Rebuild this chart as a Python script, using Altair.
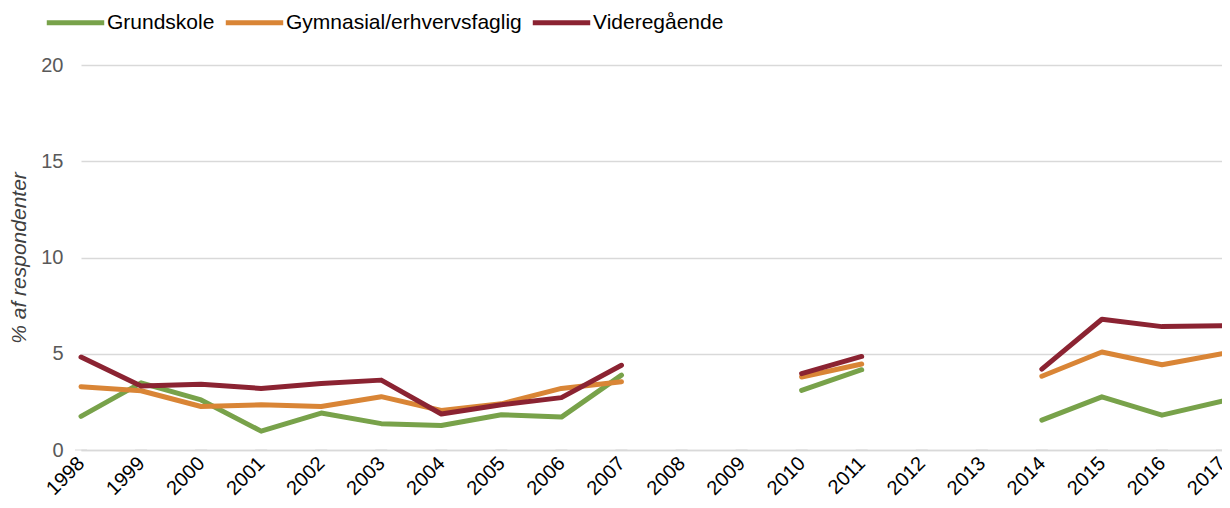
import altair as alt
import pandas as pd

years = list(range(1998, 2018))
series_names = ["Grundskole", "Gymnasial/erhvervsfaglig", "Videregående"]
grundskole = [1.75, 3.49, 2.60, 0.98, 1.92, 1.37, 1.27, 1.83, 1.71, 3.89, None, None,
              3.10, 4.17, None, None, 1.55, 2.76, 1.81, 2.53]
gymnasial = [3.29, 3.08, 2.26, 2.35, 2.26, 2.77, 2.05, 2.40, 3.20, 3.54, None, None,
             3.79, 4.47, None, None, 3.83, 5.09, 4.43, 5.00]
videregaaende = [4.83, 3.32, 3.42, 3.20, 3.46, 3.63, 1.87, 2.35, 2.72, 4.40, None, None,
                 3.97, 4.86, None, None, 4.20, 6.79, 6.41, 6.45]
y_ticks = [0, 5, 10, 15, 20]
colors = ["#78A24A", "#D98536", "#8B2332"]

rows = []
for name, vals in zip(series_names, [grundskole, gymnasial, videregaaende]):
    seg = 0
    prev_none = True
    for yr, v in zip(years, vals):
        if v is None:
            prev_none = True
            continue
        if prev_none:
            seg += 1
            prev_none = False
        rows.append({"year": yr, "series": name, "value": v, "segment": f"{name}-{seg}"})
df = pd.DataFrame(rows)
ticks_df = pd.DataFrame({"year": years, "zero": [0] * len(years)})

font = "Liberation Sans"

x_scale = alt.Scale(type="point", domain=years, padding=0)
y_scale = alt.Scale(domain=[0, 20])

lines = alt.Chart(df).mark_line(strokeWidth=5, strokeCap="round", strokeJoin="round").encode(
    x=alt.X("year:O", scale=x_scale, sort=years,
            axis=alt.Axis(title=None, labelAngle=-45, labelFontSize=20, labelColor="#000000",
                          labelFont=font, domainColor="#d9d9d9", domainWidth=1.5,
                          ticks=False, labelPadding=10, grid=False)),
    y=alt.Y("value:Q", scale=y_scale,
            axis=alt.Axis(values=y_ticks, title="% af respondenter", titleFontStyle="italic",
                          titleFontWeight="normal", titleFontSize=21, titleColor="#404040",
                          titleFont=font, titlePadding=11,
                          labelFontSize=20, labelColor="#595959", labelFont=font,
                          labelPadding=18, domain=False, ticks=False,
                          gridColor="#d9d9d9", gridWidth=1.5)),
    color=alt.Color("series:N", scale=alt.Scale(domain=series_names, range=colors),
                    legend=alt.Legend(orient="none", legendX=-37, legendY=-74,
                                      direction="horizontal", columns=3, title=None,
                                      symbolType="stroke", symbolSize=3300,
                                      symbolStrokeWidth=5, labelFontSize=21,
                                      labelFont=font, labelColor="#000000",
                                      labelLimit=500, labelOffset=0, columnPadding=0)),
    detail="segment:N",
)

tick_marks = alt.Chart(ticks_df).mark_tick(size=12, thickness=1.5, color="#d9d9d9").encode(
    x=alt.X("year:O", scale=x_scale, sort=years),
    y=alt.Y("zero:Q", scale=y_scale),
)

chart = alt.layer(tick_marks, lines).properties(
    width=1141, height=385,
    autosize="none",
    padding={"left": 73, "top": 57, "right": 0, "bottom": 50},
).configure(font=font).configure_view(stroke=None)

chart.save("out.html", embed_options={"renderer": "svg", "actions": False})
